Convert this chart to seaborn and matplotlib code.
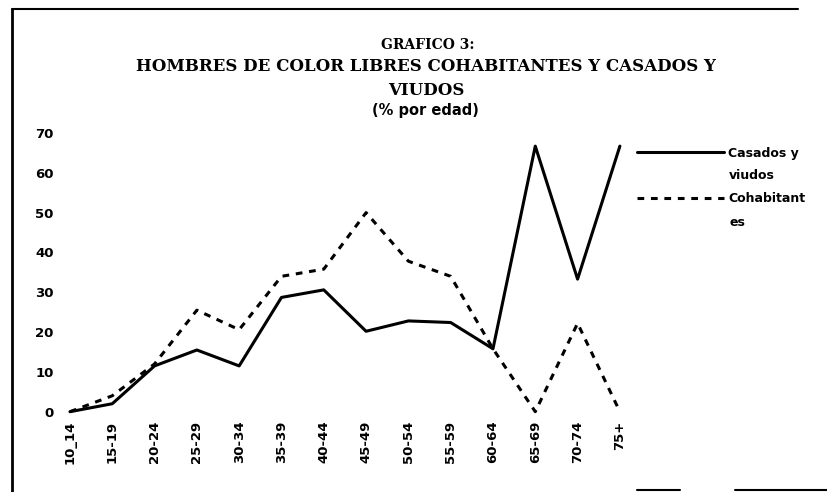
import matplotlib
matplotlib.use("Agg")
import matplotlib.pyplot as plt
import seaborn as sns
import pandas as pd
from matplotlib.lines import Line2D

# datos
edades = ["10_14", "15-19", "20-24", "25-29", "30-34", "35-39", "40-44",
          "45-49", "50-54", "55-59", "60-64", "65-69", "70-74", "75+"]
casados = [0, 2, 11.5, 15.5, 11.5, 28.7, 30.6, 20.2, 22.8, 22.4, 15.8, 66.7, 33.3, 66.7]
cohabitantes = [0, 4, 12, 25.5, 20.6, 34, 35.8, 50, 37.8, 34, 15.8, 0, 22.2, 0]

series = ["Casados y viudos", "Cohabitantes"]
leyenda_1 = ["Casados y", "Cohabitant"]
leyenda_2 = ["viudos", "es"]

df = pd.concat([
    pd.DataFrame({"edad": edades, "valor": casados, "serie": series[0]}),
    pd.DataFrame({"edad": edades, "valor": cohabitantes, "serie": series[1]}),
])

sns.set_theme(style="white")
plt.rcParams["font.family"] = ["DejaVu Sans"]
plt.rcParams["text.color"] = "black"
plt.rcParams["xtick.color"] = "black"
plt.rcParams["ytick.color"] = "black"

fig = plt.figure(figsize=(8.27, 4.92), dpi=100)
ax = fig.add_axes([0.081, 0.1632, 0.6747, 0.5665])

sns.lineplot(data=df, x="edad", y="valor", style="serie", color="black",
             dashes={series[0]: "", series[1]: (2.2, 2.2)}, linewidth=2.2,
             sort=False, ax=ax, legend=False)
for ln in ax.get_lines():
    ln.set_clip_on(False)

ax.set_xlim(-0.07, 13.12)
ax.set_ylim(0, 70)
ax.set_yticks(range(0, 71, 10))
ax.set_xlabel("")
ax.set_ylabel("")
for s in ax.spines.values():
    s.set_visible(False)
ax.tick_params(axis="both", which="both", direction="out", length=1.5,
               width=1.5, color="black", labelcolor="black", pad=8)
ax.tick_params(axis="x", pad=5)
for lab in ax.get_yticklabels():
    lab.set_fontweight("bold")
    lab.set_fontsize(9.5)
for lab in ax.get_xticklabels():
    lab.set_rotation(90)
    lab.set_fontweight("bold")
    lab.set_fontsize(9.5)

# leyenda
handles = [Line2D([], [], color="black", lw=2.2),
           Line2D([], [], color="black", lw=2.2, dashes=(2.2, 2.2))]
leg = fig.legend(handles, leyenda_1, loc="upper left",
                 bbox_to_anchor=(0.770, 0.702), frameon=False,
                 prop={"weight": "bold", "size": 9},
                 handlelength=7.0, handletextpad=0.3, labelspacing=2.6,
                 borderpad=0, borderaxespad=0, labelcolor="black")
for i, txt in enumerate(leyenda_2):
    fig.text(0.8815, 0.644 - i * 0.0955, txt, ha="left", va="center",
             weight="bold", size=9, color="black")

# titulos
fig.text(0.517, 0.908, "GRAFICO 3:", ha="center", va="center",
         family="DejaVu Serif", weight="bold", size=10)
fig.text(0.515, 0.864, "HOMBRES DE COLOR LIBRES COHABITANTES Y CASADOS Y",
         ha="center", va="center", family="DejaVu Serif", weight="bold", size=12)
fig.text(0.515, 0.817, "VIUDOS", ha="center", va="center",
         family="DejaVu Serif", weight="bold", size=12)
fig.text(0.515, 0.776, "(% por edad)", ha="center", va="center",
         weight="bold", size=10.5)

# marco
fig.add_artist(Line2D([0.014, 0.014], [0.0, 0.982], color="black", lw=2,
                      transform=fig.transFigure))
fig.add_artist(Line2D([0.014, 0.965], [0.982, 0.982], color="black", lw=1.5,
                      transform=fig.transFigure))
fig.add_artist(Line2D([0.77, 0.822], [0.004, 0.004], color="black", lw=1.5,
                      transform=fig.transFigure))
fig.add_artist(Line2D([0.889, 1.0], [0.004, 0.004], color="black", lw=1.5,
                      transform=fig.transFigure))

fig.savefig("out.png", dpi=100)
